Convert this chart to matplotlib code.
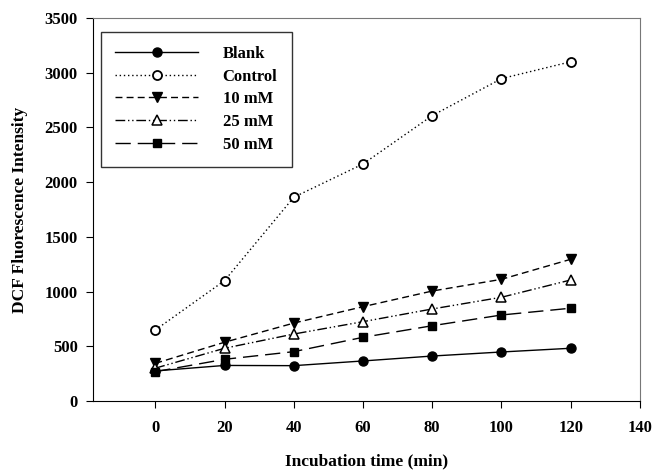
import matplotlib
matplotlib.use("Agg")
import matplotlib.pyplot as plt

plt.rcParams["font.family"] = ["Liberation Serif", "DejaVu Serif"]
plt.rcParams["font.weight"] = "bold"

time_min = [0, 20, 40, 60, 80, 100, 120]
blank = [275, 325, 323, 366, 411, 448, 482]
control = [649, 1100, 1862, 2166, 2608, 2946, 3100]
mm10 = [344, 537, 712, 862, 1005, 1112, 1295]
mm25 = [300, 482, 612, 725, 841, 948, 1106]
mm50 = [268, 381, 451, 582, 688, 786, 848]

fig = plt.figure(figsize=(6.55, 4.71), dpi=100)
ax = fig.add_axes([0.142, 0.1486, 0.835, 0.8132])

ms = 6.5
ax.plot(time_min, blank, color="black", lw=1, ls="-", marker="o", ms=ms,
        mfc="black", label="Blank")
ax.plot(time_min, control, color="black", lw=1, ls=(0, (1, 2)), marker="o", ms=ms,
        mfc="white", mew=1.3, label="Control")
ax.plot(time_min, mm10, color="black", lw=1, ls=(0, (5, 3)), marker="v", ms=ms,
        mfc="black", label="10 mM")
ax.plot(time_min, mm25, color="black", lw=1, ls=(0, (7, 2, 1, 2, 1, 2)), marker="^",
        ms=ms, mfc="white", mew=1.1, label="25 mM")
ax.plot(time_min, mm50, color="black", lw=1, ls=(0, (11, 5)), marker="s", ms=6,
        mfc="black", label="50 mM")

ax.set_xlim(-18, 140)
ax.set_ylim(0, 3500)
ax.set_xticks([0, 20, 40, 60, 80, 100, 120, 140])
ax.set_yticks([0, 500, 1000, 1500, 2000, 2500, 3000, 3500])
ax.tick_params(direction="out", length=5, labelsize=12, top=False, right=False)
for lab in ax.get_xticklabels() + ax.get_yticklabels():
    lab.set_fontweight("bold")
ax.tick_params(axis="x", pad=9)
ax.tick_params(axis="y", pad=6)
ax.spines["top"].set_color("#777777")
ax.spines["right"].set_color("#777777")

ax.set_xlabel("Incubation time (min)", fontsize=12.5, fontweight="bold", labelpad=12)
ax.set_ylabel("DCF Fluorescence Intensity", fontsize=12.5, fontweight="bold", labelpad=12)

leg = ax.legend(loc="upper left", bbox_to_anchor=(0.0145, 0.964), numpoints=1,
                handlelength=5.0, handletextpad=1.45, fontsize=12,
                frameon=True, fancybox=False, edgecolor="black",
                borderpad=0.85, labelspacing=0.4, borderaxespad=0)
leg.get_frame().set_linewidth(1.0)

fig.savefig("out.png", dpi=100)
